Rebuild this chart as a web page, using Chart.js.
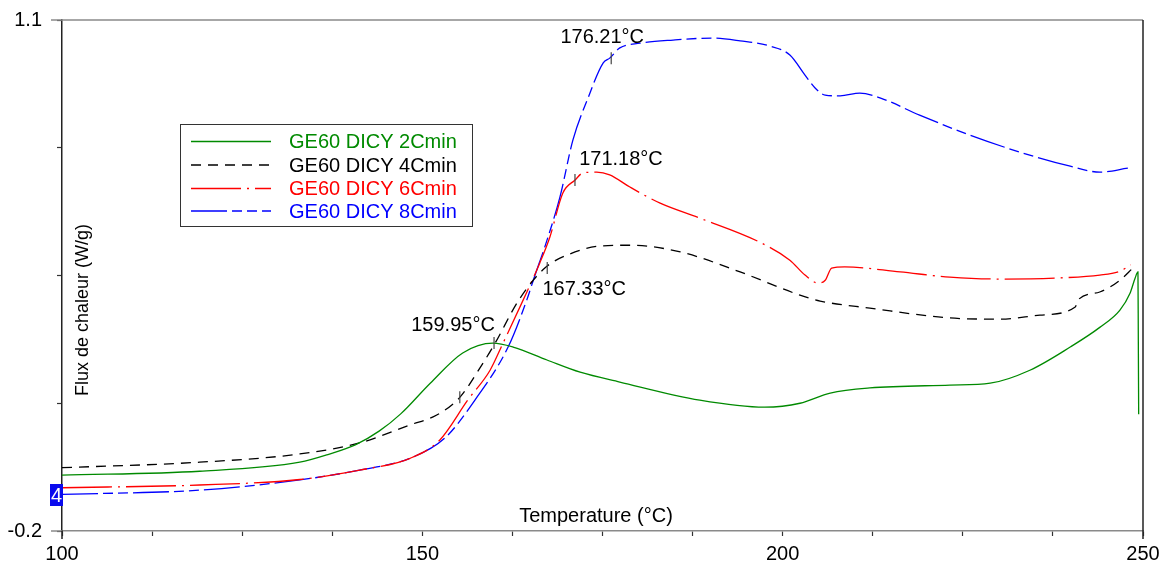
<!DOCTYPE html>
<html>
<head>
<meta charset="utf-8">
<script src="https://cdn.jsdelivr.net/npm/chart.js@4/dist/chart.umd.min.js"></script>
<style>
html,body{margin:0;padding:0;background:#fff;}
#wrap{width:1162px;height:563px;position:relative;}
</style>
</head>
<body>
<div id="wrap"><canvas id="c" width="1162" height="563"></canvas></div>
<script>
// ---- Data ----
const seriesNames = ['GE60 DICY 2Cmin','GE60 DICY 4Cmin','GE60 DICY 6Cmin','GE60 DICY 8Cmin'];

const temp2C = [100,119.1,133.0,137.0,140.7,144.0,147.0,151.1,155.6,159.8,162.6,167.3,171.9,177.4,188.5,197.5,202.4,206.6,212.1,223.2,228.8,234.3,239.9,244.0,246.8,248.2,248.9,249.3,249.35,249.4];
const flux2C = [-0.058,-0.048,-0.025,-0.005,0.019,0.054,0.098,0.176,0.253,0.278,0.268,0.235,0.204,0.179,0.133,0.115,0.125,0.151,0.164,0.171,0.176,0.209,0.268,0.318,0.362,0.405,0.443,0.459,0.286,0.097];

const temp4C = [100,119.1,133.0,141.3,148.3,152.0,155.2,158.0,160.1,163.4,167.0,170.5,174.7,178.8,185.8,194.1,202.4,205.2,212.1,223.2,230.1,235.7,240.6,241.0,244.0,246.8,248.6];
const flux4C = [-0.039,-0.025,-0.004,0.024,0.070,0.095,0.140,0.215,0.278,0.388,0.469,0.505,0.525,0.527,0.510,0.459,0.400,0.385,0.367,0.342,0.339,0.349,0.370,0.388,0.408,0.438,0.469];

const temp6C = [100,119.1,133.0,141.3,148.3,152.4,156.3,159.4,161.2,164.0,166.3,167.7,169.5,171.2,172.3,174.2,176.0,178.8,183.0,188.5,196.8,201.0,203.1,204.9,205.9,206.8,208.6,216.3,223.2,230.1,238.5,244.0,246.8,248.3];
const flux6C = [-0.090,-0.083,-0.069,-0.045,-0.015,0.031,0.133,0.209,0.278,0.388,0.482,0.548,0.660,0.693,0.711,0.713,0.706,0.675,0.634,0.596,0.535,0.489,0.451,0.431,0.438,0.469,0.472,0.459,0.446,0.441,0.444,0.451,0.461,0.477];

const temp8C = [100,119.1,133.0,141.3,148.3,153.1,157.3,161.9,164.5,165.4,167.3,169.1,170.9,173.0,175.1,176.0,177.4,180.2,184.8,190.3,194.1,198.2,201.0,203.1,204.5,205.9,208.0,210.7,213.5,219.0,226.0,232.9,239.9,244.0,247.9];
const flux8C = [-0.107,-0.096,-0.070,-0.045,-0.015,0.036,0.133,0.268,0.388,0.438,0.540,0.650,0.795,0.902,0.991,1.003,1.029,1.041,1.049,1.054,1.047,1.034,1.011,0.960,0.927,0.909,0.907,0.914,0.902,0.858,0.807,0.764,0.728,0.713,0.723];

const peakTemps  = [155.2, 159.95, 167.33, 171.18, 176.21];
const peakFlux   = [0.140, 0.278, 0.469, 0.693, 1.003];
const peakLabels = ['', '159.95°C', '167.33°C', '171.18°C', '176.21°C'];

const xTickValues = [100,112.5,125,137.5,150,162.5,175,187.5,200,212.5,225,237.5,250];
const xTickLabels = ['100','','','','150','','','','200','','','','250'];
const yTickValues = [-0.2,0.125,0.45,0.775,1.1];
const yTickLabels = ['-0.2','','','','1.1'];

// ---- Styles ----
const colors = ['#008a00','#000000','#ff0000','#0000ff'];
const dashes = [[], [10,7], [50,6,2,6], [36,5,10,5,10,5]];
const labelOffsets = [[0,0],[-41,-18],[37,21],[46,-20],[-9,-21]];
const FONT = '"Liberation Sans", Arial, Helvetica, sans-serif';

function pts(xs, ys){ return xs.map((x,i)=>({x:x, y:ys[i]})); }
const allT = [temp2C,temp4C,temp6C,temp8C];
const allF = [flux2C,flux4C,flux6C,flux8C];

const datasets = seriesNames.map((n,i)=>({
  label:n,
  data:pts(allT[i], allF[i]),
  borderColor:colors[i],
  backgroundColor:colors[i],
  borderWidth:1.3,
  borderDash:dashes[i],
  pointRadius:0,
  showLine:true,
  fill:false,
  cubicInterpolationMode:'monotone'
}));

const decor = {
  id:'decor',
  afterDraw(chart){
    const ctx = chart.ctx;
    const a = chart.chartArea;
    const xs = chart.scales.x, ys = chart.scales.y;
    ctx.save();
    // top frame line (gray), extended left
    ctx.strokeStyle = '#8a8a8a'; ctx.lineWidth = 1.5;
    ctx.beginPath(); ctx.moveTo(51, a.top); ctx.lineTo(a.right, a.top); ctx.stroke();
    // bottom extended tick
    ctx.beginPath(); ctx.moveTo(51, a.bottom); ctx.lineTo(a.left, a.bottom); ctx.stroke();
    // right frame line (dark)
    ctx.strokeStyle = '#222'; ctx.lineWidth = 1.5;
    ctx.beginPath(); ctx.moveTo(a.right, a.top); ctx.lineTo(a.right, a.bottom + 8); ctx.stroke();
    ctx.beginPath(); ctx.moveTo(a.left, a.bottom); ctx.lineTo(a.left, a.bottom + 8); ctx.stroke();

    // peak markers and labels
    ctx.font = '20px ' + FONT;
    ctx.textAlign = 'center'; ctx.textBaseline = 'middle';
    peakTemps.forEach((t,i)=>{
      const px = xs.getPixelForValue(t), py = ys.getPixelForValue(peakFlux[i]);
      ctx.strokeStyle = '#444'; ctx.lineWidth = 1.2;
      ctx.beginPath(); ctx.moveTo(px, py - 6); ctx.lineTo(px, py + 6); ctx.stroke();
      if (peakLabels[i]) {
        ctx.fillStyle = '#000';
        ctx.fillText(peakLabels[i], px + labelOffsets[i][0], py + labelOffsets[i][1]);
      }
    });

    // axis titles inside plot
    ctx.fillStyle = '#000';
    ctx.font = '20px ' + FONT;
    ctx.fillText('Temperature (°C)', 596, a.bottom - 15);
    ctx.save();
    ctx.translate(83, 310); ctx.rotate(-Math.PI/2);
    ctx.font = '18px ' + FONT;
    ctx.fillText('Flux de chaleur (W/g)', 0, 0);
    ctx.restore();

    // legend box
    const lx = 180, ly = 124, lw = 292, lh = 102;
    ctx.fillStyle = '#fff'; ctx.fillRect(lx, ly, lw, lh);
    ctx.strokeStyle = '#333'; ctx.lineWidth = 1;
    ctx.strokeRect(lx + 0.5, ly + 0.5, lw, lh);
    const rows = [141.5, 165, 188.5, 211];
    ctx.textAlign = 'left';
    ctx.font = '20px ' + FONT;
    seriesNames.forEach((n,i)=>{
      ctx.strokeStyle = colors[i]; ctx.lineWidth = 1.5;
      ctx.setLineDash(dashes[i]);
      ctx.beginPath(); ctx.moveTo(191, rows[i]); ctx.lineTo(271, rows[i]); ctx.stroke();
      ctx.setLineDash([]);
      ctx.fillStyle = colors[i];
      ctx.fillText(n, 289, rows[i] + 1);
    });

    // blue "4" marker box at left axis
    ctx.fillStyle = '#0a0aee';
    ctx.fillRect(50, 484, 13, 22);
    ctx.fillStyle = '#fff';
    ctx.textAlign = 'center';
    ctx.font = '20px ' + FONT;
    ctx.fillText('4', 56.5, 496);
    ctx.restore();
  }
};

new Chart(document.getElementById('c'), {
  type:'scatter',
  data:{datasets:datasets},
  options:{
    responsive:false,
    animation:false,
    events:[],
    layout:{padding:{left:0, right:19, top:20, bottom:0}},
    plugins:{legend:{display:false}, tooltip:{enabled:false}, title:{display:false}},
    scales:{
      x:{
        type:'linear', min:100, max:250,
        afterBuildTicks:(s)=>{ s.ticks = xTickValues.map(v=>({value:v})); },
        afterFit:(s)=>{ s.height = 32; },
        ticks:{
          autoSkip:false, maxRotation:0, padding:0,
          color:'#000', font:{family:FONT, size:20, lineHeight:1.8},
          callback:(v,i)=> xTickLabels[i]
        },
        grid:{drawOnChartArea:false, drawTicks:true, tickLength:5, tickColor:'#333', tickWidth:1.2},
        border:{display:true, color:'#8a8a8a', width:1.5}
      },
      y:{
        type:'linear', min:-0.2, max:1.1,
        afterBuildTicks:(s)=>{ s.ticks = yTickValues.map(v=>({value:v})); },
        afterFit:(s)=>{ s.width = 62; },
        ticks:{
          autoSkip:false, padding:15,
          color:'#000', font:{family:FONT, size:20, lineHeight:0.4},
          callback:(v,i)=> yTickLabels[i]
        },
        grid:{drawOnChartArea:false, drawTicks:true, tickLength:5, tickColor:'#333', tickWidth:1.2},
        border:{display:true, color:'#222', width:1.5}
      }
    }
  },
  plugins:[decor]
});
</script>
</body>
</html>
